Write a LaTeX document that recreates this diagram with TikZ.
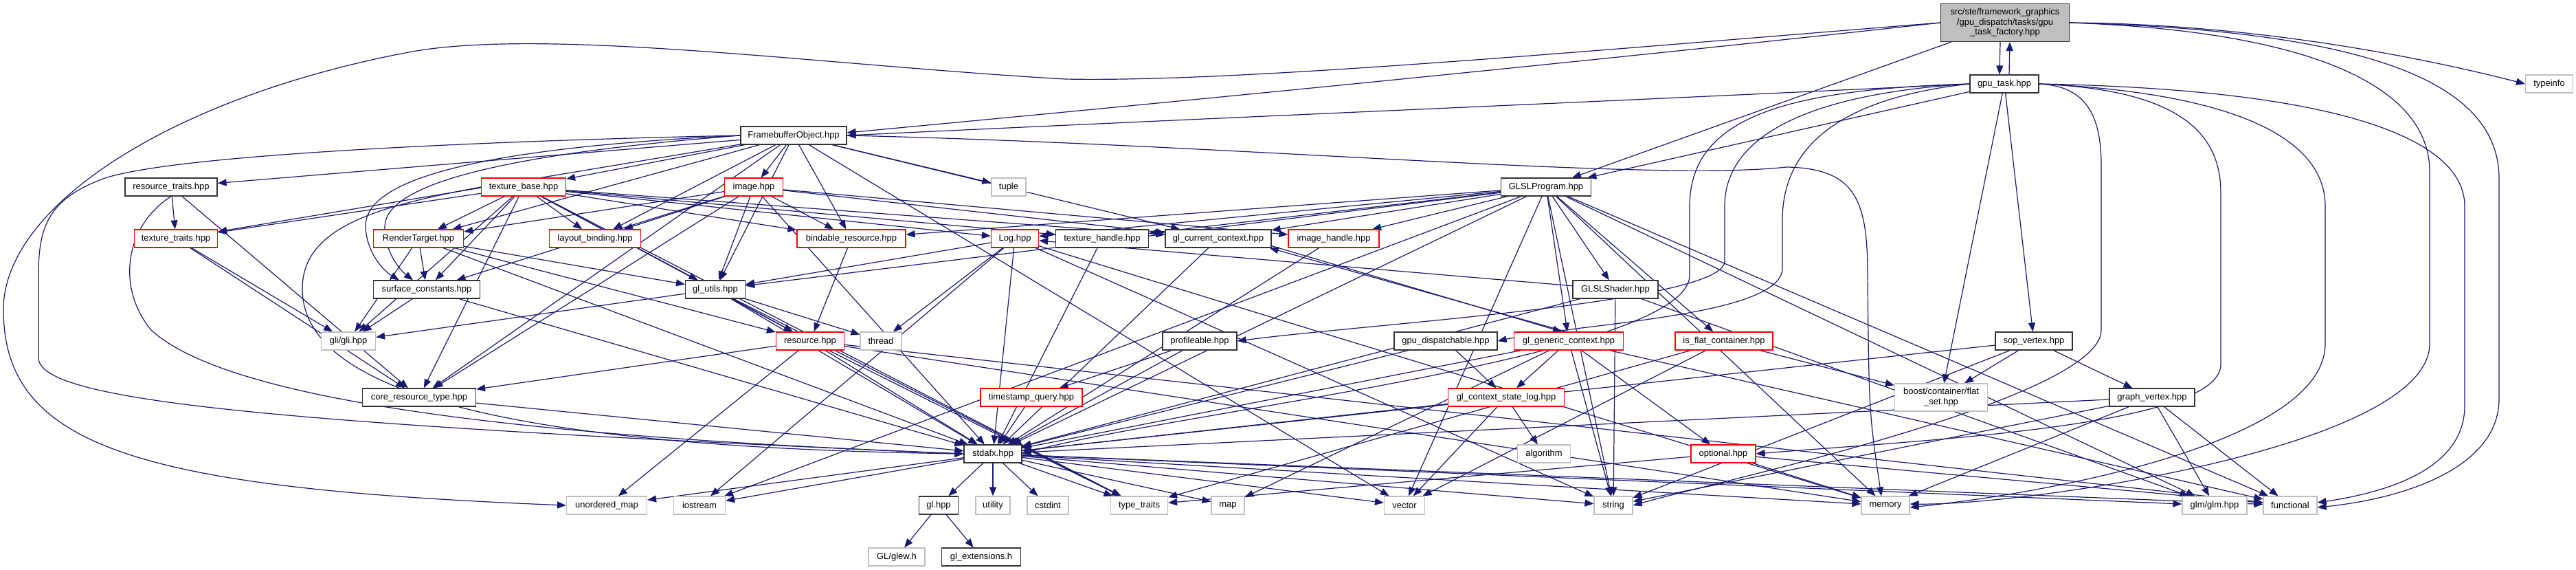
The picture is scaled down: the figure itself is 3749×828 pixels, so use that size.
\documentclass[tikz,border=0pt]{standalone}
\usepackage{fontspec}
\setmainfont{Liberation Sans}
\usetikzlibrary{arrows.meta}
\pgfdeclarelayer{bg}
\pgfsetlayers{bg,main}
\definecolor{edgec}{HTML}{191970}
\definecolor{redc}{HTML}{FF0000}
\definecolor{grayc}{HTML}{BFBFBF}
\definecolor{blkc}{HTML}{333333}
\begin{document}
\begin{tikzpicture}[x=1pt,y=-1pt,
  box/.style={draw, rectangle, inner sep=0pt, minimum height=26pt, font=\fontsize{13}{15}\selectfont, line width=1.2pt, fill=white},
  blk/.style={box, draw=blkc},
  rd/.style={box, draw=redc},
  gr/.style={box, draw=grayc},
  edge/.style={draw=edgec, line width=1.2pt, -{Triangle[length=13pt,width=10pt]}},
]
\useasboundingbox (0,0) rectangle (3749,828);

% nodes
\node[box, draw=blkc, fill=grayc, minimum width=187pt, minimum height=55pt, align=center, font=\fontsize{13}{14.5}\selectfont] (root) at (2918,33) {src/ste/framework\_graphics\\/gpu\_dispatch/tasks/gpu\\\_task\_factory.hpp};
\node[blk, minimum width=100pt] (gputask) at (2917,122) {gpu\_task.hpp};
\node[gr, minimum width=69pt] (typeinfo) at (3710,122) {typeinfo};
\node[blk, minimum width=154pt] (fbo) at (1155,197) {FramebufferObject.hpp};
\node[blk, minimum width=134pt] (resourcetraits) at (249,272) {resource\_traits.hpp};
\node[rd, minimum width=123pt] (texturebase) at (762,272) {texture\_base.hpp};
\node[rd, minimum width=85pt] (image) at (1097,272) {image.hpp};
\node[gr, minimum width=50pt] (tuple) at (1468,272) {tuple};
\node[blk, minimum width=131pt] (glslprogram) at (2250,272) {GLSLProgram.hpp};
\node[rd, minimum width=121pt] (texturetraits) at (256,347) {texture\_traits.hpp};
\node[rd, minimum width=131pt] (rendertarget) at (609,347) {RenderTarget.hpp};
\node[rd, minimum width=133pt] (layoutbinding) at (866,347) {layout\_binding.hpp};
\node[rd, minimum width=158pt] (bindable) at (1239,347) {bindable\_resource.hpp};
\node[rd, minimum width=69pt] (log) at (1477,347) {Log.hpp};
\node[blk, minimum width=135pt] (texturehandle) at (1604,347) {texture\_handle.hpp};
\node[blk, minimum width=154pt] (glcurrent) at (1773,347) {gl\_current\_context.hpp};
\node[rd, minimum width=132pt] (imagehandle) at (1941,347) {image\_handle.hpp};
\node[blk, minimum width=155pt] (surface) at (621,421) {surface\_constants.hpp};
\node[blk, minimum width=87pt] (glutils) at (1041,421) {gl\_utils.hpp};
\node[blk, minimum width=124pt] (glslshader) at (2351,421) {GLSLShader.hpp};
\node[gr, minimum width=79pt] (gli) at (507,496) {gli/gli.hpp};
\node[rd, minimum width=99pt] (resource) at (1179,496) {resource.hpp};
\node[gr, minimum width=60pt] (thread) at (1282,496) {thread};
\node[blk, minimum width=108pt] (profileable) at (1746,496) {profileable.hpp};
\node[blk, minimum width=150pt] (gpudisp) at (2104,496) {gpu\_dispatchable.hpp};
\node[rd, minimum width=159pt] (glgeneric) at (2283,496) {gl\_generic\_context.hpp};
\node[rd, minimum width=142pt] (isflat) at (2509,496) {is\_flat\_container.hpp};
\node[blk, minimum width=112pt] (sopvertex) at (2960,496) {sop\_vertex.hpp};
\node[blk, minimum width=165pt] (coreres) at (610,578) {core\_resource\_type.hpp};
\node[rd, minimum width=148pt] (timestamp) at (1501,578) {timestamp\_query.hpp};
\node[rd, minimum width=169pt] (statelog) at (2192,578) {gl\_context\_state\_log.hpp};
\node[gr, minimum width=135pt, minimum height=40pt, align=center, font=\fontsize{13}{15}\selectfont] (boost) at (2825,578) {boost/container/flat\\\_set.hpp};
\node[blk, minimum width=124pt] (graphvertex) at (3132,578) {graph\_vertex.hpp};
\node[blk, minimum width=84pt] (stdafx) at (1445,660) {stdafx.hpp};
\node[gr, minimum width=77pt] (algorithm) at (2247,660) {algorithm};
\node[rd, minimum width=94pt] (optional) at (2508,660) {optional.hpp};
\node[gr, minimum width=117pt] (unorderedmap) at (883,735) {unordered\_map};
\node[gr, minimum width=75pt] (iostream) at (1018,735) {iostream};
\node[blk, minimum width=57pt] (glhpp) at (1366,735) {gl.hpp};
\node[gr, minimum width=50pt] (utility) at (1445,735) {utility};
\node[gr, minimum width=60pt] (cstdint) at (1525,735) {cstdint};
\node[gr, minimum width=83pt] (typetraits) at (1658,735) {type\_traits};
\node[gr, minimum width=48pt] (map) at (1787,735) {map};
\node[gr, minimum width=59pt] (vector) at (2044,735) {vector};
\node[gr, minimum width=56pt] (string) at (2348,735) {string};
\node[gr, minimum width=70pt] (memory) at (2744,735) {memory};
\node[gr, minimum width=94pt] (glm) at (3223,735) {glm/glm.hpp};
\node[gr, minimum width=78pt] (functional) at (3333,735) {functional};
\node[gr, minimum width=82pt] (glew) at (1305,810) {GL/glew.h};
\node[blk, minimum width=115pt] (glext) at (1428,810) {gl\_extensions.h};

\begin{pgfonlayer}{bg}
% straight edges
\foreach \s/\t in {
 root/glslprogram, gputask/glslprogram, gputask/sopvertex, gputask/boost,
 fbo/resourcetraits, fbo/texturetraits, fbo/texturebase, fbo/rendertarget, fbo/image, fbo/layoutbinding,
 fbo/bindable, fbo/glutils, fbo/tuple, fbo/glcurrent, fbo/coreres, fbo/vector,
 texturebase/rendertarget, texturebase/layoutbinding, texturebase/texturetraits, texturebase/surface,
 texturebase/gli, texturebase/glutils, texturebase/bindable, texturebase/log, texturebase/texturehandle,
 texturebase/glcurrent, texturebase/resource, texturebase/coreres, texturebase/typetraits,
 image/rendertarget, image/layoutbinding, image/bindable, image/glutils, image/surface, image/stdafx,
 image/coreres, image/imagehandle, image/glcurrent,
 resourcetraits/texturetraits, resourcetraits/coreres,
 texturetraits/gli, texturetraits/coreres,
 rendertarget/surface, rendertarget/glutils, rendertarget/resource, rendertarget/gli, rendertarget/stdafx,
 surface/gli, surface/stdafx, bindable/resource,
 glutils/gli, glutils/thread, glutils/resource, glutils/stdafx, glutils/typetraits,
 log/thread, log/glutils, log/stdafx, log/string, log/memory, log/iostream,
 texturehandle/stdafx, glcurrent/stdafx, imagehandle/stdafx,
 glgeneric/statelog, glgeneric/stdafx, glgeneric/string, glgeneric/map, glgeneric/optional, glgeneric/functional,
 glslprogram/log, glslprogram/bindable, glslprogram/glcurrent, glslprogram/imagehandle, glslprogram/texturehandle,
 glslprogram/glslshader, glslprogram/glutils, glslprogram/stdafx, glslprogram/isflat, glslprogram/vector,
 glslprogram/string, glslprogram/memory, glslprogram/functional, glslprogram/glm, glslprogram/glgeneric, glslprogram/iostream,
 glslshader/stdafx, glslshader/string, glslshader/glm, glslshader/log,
 profileable/timestamp, profileable/stdafx, timestamp/stdafx,
 gpudisp/statelog, gpudisp/stdafx,
 statelog/vector, statelog/algorithm, statelog/stdafx,
 isflat/boost, isflat/typetraits, isflat/vector,
 sopvertex/boost, sopvertex/graphvertex, sopvertex/stdafx, sopvertex/string,
 graphvertex/stdafx, graphvertex/functional, graphvertex/memory, graphvertex/string, graphvertex/glm,
 optional/typetraits, optional/memory, optional/functional,
 stdafx/glhpp, stdafx/utility, stdafx/cstdint, stdafx/typetraits, stdafx/map, stdafx/vector, stdafx/string,
 stdafx/memory, stdafx/glm, stdafx/functional, stdafx/unorderedmap, stdafx/iostream,
 glhpp/glew, glhpp/glext, coreres/stdafx,
 resource/coreres, resource/stdafx, resource/typetraits, resource/memory, resource/functional, resource/unorderedmap}
 \draw[edge] (\s) -- (\t);

% parallel pairs
\draw[edge] ([xshift=-7pt]root.south) -- ([xshift=-7pt]gputask.north);
\draw[edge] ([xshift=7pt]gputask.north) -- ([xshift=7pt]root.south);
\draw[edge] ([yshift=3pt]glcurrent.south east) -- ([xshift=-10pt]glgeneric.north);
\draw[edge] ([xshift=-4pt]glgeneric.north) -- ([xshift=-3pt]glcurrent.south east);

% routed edges
\draw[edge] (root.east) .. controls (3300,35) and (3550,90) .. (typeinfo.west);
\draw[edge] (root.west) .. controls (2400,80) and (1800,140) .. ([yshift=4pt]fbo.east);
\draw[edge] (gputask.west) .. controls (2400,145) and (1800,170) .. (fbo.east);
\draw[edge] (root.west) .. controls (2300,75) and (1800,120) .. (1550,115)
   .. controls (1200,95) and (800,40) .. (600,75)
   .. controls (250,140) and (5,300) .. (5,450)
   .. controls (5,650) and (200,710) .. (unorderedmap.west);
\draw[edge] (root.east) .. controls (3350,45) and (3536,120) .. (3536,250) -- (3536,500)
   .. controls (3536,650) and (2950,735) .. ([yshift=2pt]memory.east);
\draw[edge] (root.east) .. controls (3450,45) and (3637,120) .. (3637,260) -- (3637,580)
   .. controls (3637,680) and (3500,725) .. ([yshift=-3pt]functional.east);
\draw[edge] (gputask.east) .. controls (3030,125) and (3058,160) .. (3058,240) -- (3058,480)
   .. controls (3058,580) and (2500,700) .. (string.east);
\draw[edge] (gputask.east) .. controls (3150,130) and (3232,180) .. (3232,280) -- (3232,530)
   .. controls (3232,620) and (2800,640) .. (optional.east);
\draw[edge] (gputask.east) .. controls (3250,135) and (3384,200) .. (3384,300) -- (3384,500)
   .. controls (3384,640) and (3000,715) .. ([yshift=-3pt]memory.east);
\draw[edge] (gputask.east) .. controls (3400,130) and (3587,200) .. (3587,300) -- (3587,590)
   .. controls (3587,680) and (3480,715) .. ([yshift=4pt]functional.east);
\draw[edge] (gputask.west) .. controls (2600,130) and (2459,170) .. (2459,300) -- (2459,400)
   .. controls (2459,520) and (1700,600) .. (stdafx.east);
\draw[edge] (gputask.west) .. controls (2650,135) and (2510,190) .. (2510,300) -- (2510,380)
   .. controls (2510,440) and (2000,470) .. (profileable.east);
\draw[edge] (gputask.west) .. controls (2700,140) and (2594,200) .. (2594,320) -- (2594,390)
   .. controls (2594,460) and (2300,470) .. (gpudisp.east);
\draw[edge] (fbo.west) .. controls (700,205) and (250,225) .. (150,260)
   .. controls (70,290) and (56,330) .. (56,400) -- (56,520)
   .. controls (56,580) and (350,615) .. (stdafx.west);
\draw[edge] (fbo.east) .. controls (1800,210) and (2400,265) .. (2600,243)
   .. controls (2700,245) and (2718,290) .. (2718,400) .. controls (2720,600) .. ([xshift=-6pt]memory.north);
\draw[edge] (resourcetraits.south) .. controls (180,330) and (170,420) .. (220,480)
   .. controls (350,600) and (900,640) .. (stdafx.west);
\draw[edge] (texturebase.west) .. controls (550,300) and (440,330) .. (440,420)
   .. controls (440,560) and (700,650) .. (stdafx.west);
\draw[edge] (fbo.west) .. controls (700,215) and (530,260) .. (532,330)
   .. controls (534,370) and (560,395) .. ([xshift=-40pt]surface.north);
\draw[edge] (fbo.west) .. controls (720,225) and (560,270) .. (560,330)
   .. controls (560,370) and (585,395) .. ([xshift=-20pt]surface.north);
\end{pgfonlayer}
\end{tikzpicture}
\end{document}
